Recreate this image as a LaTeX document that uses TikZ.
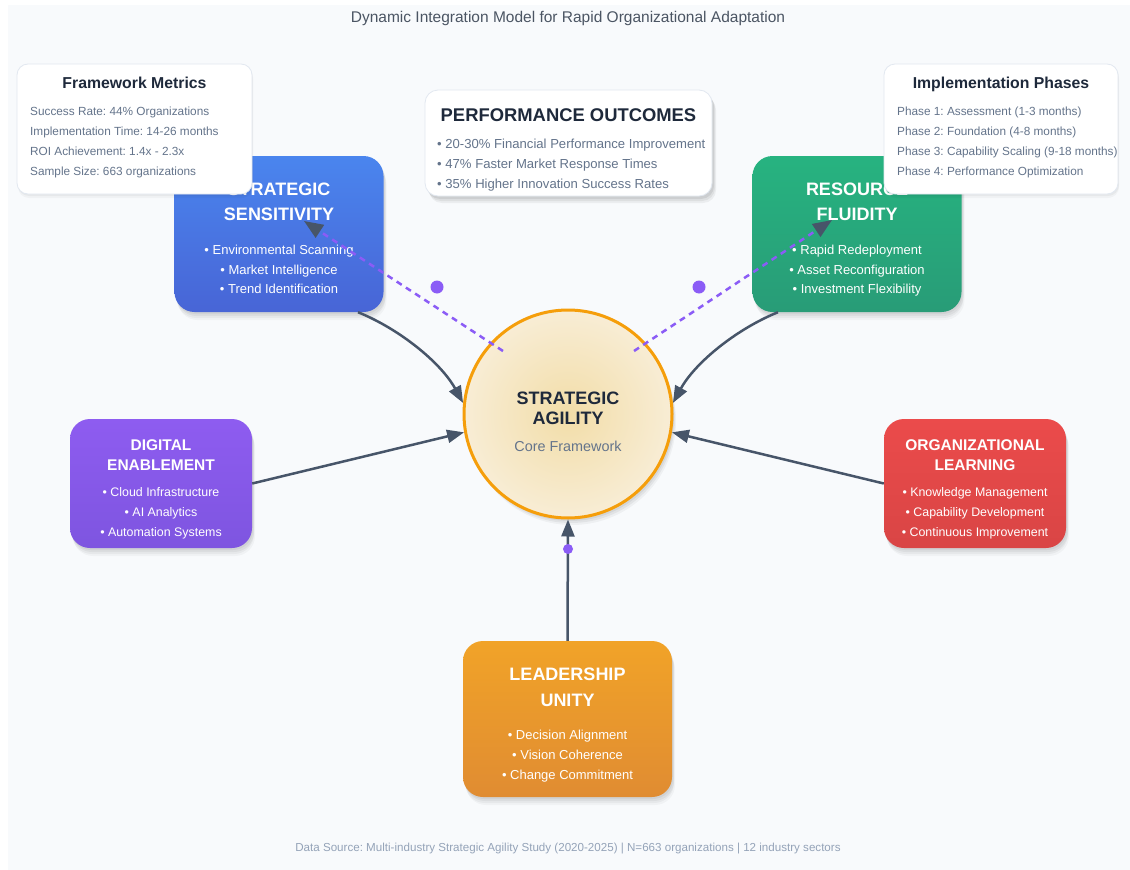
\documentclass[tikz,border=0pt]{standalone}
\usepackage{fontspec}
\setmainfont{Liberation Sans}
\usetikzlibrary{arrows.meta,shadows}
\frenchspacing

\definecolor{panel}{HTML}{F8FAFC}
\definecolor{slate}{HTML}{475569}
\definecolor{ink}{HTML}{1E293B}
\definecolor{muted}{HTML}{64748B}
\definecolor{faint}{HTML}{94A3B8}
\definecolor{headgray}{HTML}{4B5563}
\definecolor{edge}{HTML}{E2E8F0}
\definecolor{violetdot}{HTML}{8B5CF6}
\definecolor{blueA}{HTML}{4A85EE}
\definecolor{blueB}{HTML}{4865D6}
\definecolor{greenA}{HTML}{27B380}
\definecolor{greenB}{HTML}{289C77}
\definecolor{purpleA}{HTML}{8E5CF0}
\definecolor{purpleB}{HTML}{7E55E0}
\definecolor{redA}{HTML}{EB4B4B}
\definecolor{redB}{HTML}{D94545}
\definecolor{orangeA}{HTML}{F1A328}
\definecolor{orangeB}{HTML}{E08C32}
\definecolor{coreline}{HTML}{F59E0B}
\definecolor{coreIn}{HTML}{F2DDA8}
\definecolor{coreOut}{HTML}{F8EDD5}

\newcommand\fsz[1]{\fontsize{#1}{#1}\selectfont}

\begin{document}
\begin{tikzpicture}[x=1pt,y=-1pt,
  softshadow/.style={
    general shadow={fill=black,opacity=.05,shadow xshift=1pt,shadow yshift=-2pt},
    general shadow={fill=black,opacity=.045,shadow xshift=2pt,shadow yshift=-4pt},
    general shadow={fill=black,opacity=.04,shadow xshift=2pt,shadow yshift=-6pt},
    general shadow={fill=black,opacity=.03,shadow xshift=3pt,shadow yshift=-8pt}},
  lightshadow/.style={
    general shadow={fill=black,opacity=.04,shadow xshift=1pt,shadow yshift=-2pt},
    general shadow={fill=black,opacity=.03,shadow xshift=1pt,shadow yshift=-4pt}},
  card/.style={rectangle, rounded corners=20pt, inner sep=0pt, softshadow},
  bigcard/.style={card, minimum width=209pt, minimum height=156pt},
  smallcard/.style={card, minimum width=182pt, minimum height=129pt},
  infobox/.style={rectangle, rounded corners=11pt, fill=white, draw=edge, line width=0.8pt,
    inner sep=0pt, lightshadow},
  txt/.style={inner sep=0pt},
  bigttl/.style={txt, anchor=base, text=white, font=\fsz{18}\bfseries},
  bigitem/.style={txt, anchor=base, text=white, font=\fsz{13}},
  smallttl/.style={txt, anchor=base, text=white, font=\fsz{15.5}\bfseries},
  smallitem/.style={txt, anchor=base, text=white, font=\fsz{12.4}},
  infottl/.style={txt, anchor=base, text=ink, font=\fsz{15.8}\bfseries},
  infoline/.style={txt, anchor=base west, text=muted, font=\fsz{11.8}},
  perfline/.style={txt, anchor=base west, text=muted, font=\fsz{13.1}},
  conn/.style={draw=slate, line width=2.5pt, -{Triangle[length=17pt,width=13pt]}},
  dashlink/.style={draw=violetdot, line width=2.5pt, dash pattern=on 6pt off 5pt,
    -{Triangle[length=19pt,width=15pt,color=slate]}},
  dot/.style={circle, fill=violetdot, inner sep=0pt, minimum size=#1},
]
\useasboundingbox (0,0) rectangle (1130,870);
\fill[white] (0,0) rectangle (1130,870);
\fill[panel] (8,5) rectangle (1130,870);

% heading and footer
\node[txt, anchor=base, text=headgray, font=\fsz{15.5}] (heading) at (568,23)
  {Dynamic Integration Model for Rapid Organizational Adaptation};
\node[txt, anchor=base, text=faint, font=\fsz{11.6}] (footer) at (568,851)
  {Data Source: Multi-industry Strategic Agility Study (2020-2025) | N=663 organizations | 12 industry sectors};

% five capability cards
\node[bigcard, top color=blueA, bottom color=blueB] (sens) at (279,234) {};
\node[bigcard, top color=greenA, bottom color=greenB] (res) at (857,234) {};
\node[smallcard, top color=purpleA, bottom color=purpleB] (dig) at (161,483.5) {};
\node[smallcard, top color=redA, bottom color=redB] (org) at (975,483.5) {};
\node[bigcard, top color=orangeA, bottom color=orangeB] (lead) at (567.5,719) {};

% card texts
\node[bigttl] (sens-t1) at (279,195.5) {STRATEGIC};
\node[bigttl] (sens-t2) at (279,220.5) {SENSITIVITY};
\node[bigitem] (sens-i1) at (279,254.5) {• Environmental Scanning};
\node[bigitem] (sens-i2) at (279,274.5) {• Market Intelligence};
\node[bigitem] (sens-i3) at (279,293.5) {• Trend Identification};

\node[bigttl] (res-t1) at (857,195.5) {RESOURCE};
\node[bigttl] (res-t2) at (857,220.5) {FLUIDITY};
\node[bigitem] (res-i1) at (857,254.5) {• Rapid Redeployment};
\node[bigitem] (res-i2) at (857,274.5) {• Asset Reconfiguration};
\node[bigitem] (res-i3) at (857,293.5) {• Investment Flexibility};

\node[smallttl] (dig-t1) at (161,450.6) {DIGITAL};
\node[smallttl] (dig-t2) at (161,470.6) {ENABLEMENT};
\node[smallitem] (dig-i1) at (161,496.5) {• Cloud Infrastructure};
\node[smallitem] (dig-i2) at (161,516.5) {• AI Analytics};
\node[smallitem] (dig-i3) at (161,536.5) {• Automation Systems};

\node[smallttl] (org-t1) at (975,450.6) {ORGANIZATIONAL};
\node[smallttl] (org-t2) at (975,470.6) {LEARNING};
\node[smallitem] (org-i1) at (975,496.5) {• Knowledge Management};
\node[smallitem] (org-i2) at (975,516.5) {• Capability Development};
\node[smallitem] (org-i3) at (975,536.5) {• Continuous Improvement};

\node[bigttl] (lead-t1) at (567.5,680.5) {LEADERSHIP};
\node[bigttl] (lead-t2) at (567.5,706) {UNITY};
\node[bigitem] (lead-i1) at (567.5,739.5) {• Decision Alignment};
\node[bigitem] (lead-i2) at (567.5,759.5) {• Vision Coherence};
\node[bigitem] (lead-i3) at (567.5,779.5) {• Change Commitment};

% core circle
\node[circle, minimum size=208pt, inner sep=0pt, draw=coreline, line width=3pt,
  inner color=coreIn, outer color=coreOut,
  general shadow={fill=black,opacity=.06,shadow xshift=2pt,shadow yshift=-3pt},
  general shadow={fill=black,opacity=.05,shadow xshift=3pt,shadow yshift=-5pt},
  general shadow={fill=black,opacity=.04,shadow xshift=4pt,shadow yshift=-7pt}]
  (core) at (568,414) {};
\node[txt, anchor=base, text=ink, font=\fsz{18}\bfseries] (core-t1) at (568,404) {STRATEGIC};
\node[txt, anchor=base, text=ink, font=\fsz{18}\bfseries] (core-t2) at (568,424) {AGILITY};
\node[txt, anchor=base, text=muted, font=\fsz{14.4}] (core-t3) at (568,451) {Core Framework};

% connectors into the core
\draw[conn] ([xshift=79pt]sens.south) .. controls +(42,17) and +(-22,-40) .. (core.174);
\draw[conn] ([xshift=-79pt]res.south) .. controls +(-42,17) and +(22,-40) .. (core.6);
\draw[conn] (dig.east) -- (core.190);
\draw[conn] (org.west) -- (core.-10);
\draw[conn] (lead.north) -- (core.south);
\node[dot=10pt] (leaddot) at (568,549) {};

% feedback links from the core
\coordinate (fb1) at (503,351);
\coordinate (fb1end) at (304,221);
\coordinate (fb2) at (634,351);
\coordinate (fb2end) at (832,220);
\draw[dashlink] (fb1) -- (fb1end);
\draw[dashlink] (fb2) -- (fb2end);
\node[dot=13pt] (dotL) at (437,287) {};
\node[dot=13pt] (dotR) at (699,287) {};

% information panels
\node[infobox, minimum width=235pt, minimum height=130pt] (metrics) at (134.5,129) {};
\node[infottl] (metrics-t) at (134.5,88.5) {Framework Metrics};
\node[infoline] (metrics-1) at (30,115) {Success Rate: 44\% Organizations};
\node[infoline] (metrics-2) at (30,135) {Implementation Time: 14-26 months};
\node[infoline] (metrics-3) at (30,155) {ROI Achievement: 1.4x - 2.3x};
\node[infoline] (metrics-4) at (30,175) {Sample Size: 663 organizations};

\node[infobox, minimum width=234pt, minimum height=130pt] (phases) at (1001,129) {};
\node[infottl] (phases-t) at (1001,88.5) {Implementation Phases};
\node[infoline] (phases-1) at (897,115) {Phase 1: Assessment (1-3 months)};
\node[infoline] (phases-2) at (897,135) {Phase 2: Foundation (4-8 months)};
\node[infoline] (phases-3) at (897,155) {Phase 3: Capability Scaling (9-18 months)};
\node[infoline] (phases-4) at (897,175) {Phase 4: Performance Optimization};

\node[rectangle, rounded corners=13pt, fill=white, draw=edge, line width=0.8pt, inner sep=0pt,
  minimum width=287pt, minimum height=106pt,
  general shadow={fill=black,opacity=.07,shadow xshift=2pt,shadow yshift=-3pt},
  general shadow={fill=black,opacity=.06,shadow xshift=3pt,shadow yshift=-5pt},
  general shadow={fill=black,opacity=.05,shadow xshift=4pt,shadow yshift=-7pt}]
  (perf) at (568.5,143) {};
\node[txt, anchor=base, text=ink, font=\fsz{18.4}\bfseries] (perf-t) at (568.5,121) {PERFORMANCE OUTCOMES};
\node[perfline] (perf-1) at (437,148.5) {• 20-30\% Financial Performance Improvement};
\node[perfline] (perf-2) at (437,168.5) {• 47\% Faster Market Response Times};
\node[perfline] (perf-3) at (437,188.5) {• 35\% Higher Innovation Success Rates};
\end{tikzpicture}
\end{document}
